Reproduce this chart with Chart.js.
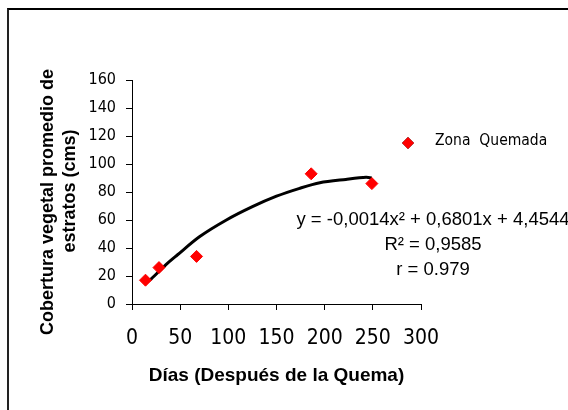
<!DOCTYPE html>
<html>
<head>
<meta charset="utf-8" />
<script src="https://cdn.jsdelivr.net/npm/chart.js@4.4.1/dist/chart.umd.min.js"></script>
<style>
  body { margin: 0; background: #fff; }
  .wrap { position: relative; width: 568px; height: 410px; overflow: hidden; }
  .frame { position: absolute; left: 7px; top: 8px; width: 700px; height: 500px; border-left: 2px solid #222; border-top: 2px solid #000; }
  canvas { position: absolute; left: 0; top: 0; }
</style>
</head>
<body>
<div class="wrap">
  <div class="frame"></div>
  <canvas id="myChart" width="568" height="410"></canvas>
</div>
<script>
// puntos medidos
const dias = [14, 28, 67, 186, 249];
const cobertura = [17, 26, 34, 93, 86];

// linea de tendencia
const tendDias = [14, 20, 35, 47, 70, 98, 125, 150, 174, 195, 222, 243, 249];
const tendCobertura = [15, 18, 28, 35, 48, 60, 69.5, 77, 82.6, 86.6, 89, 90.5, 90];

const xTicks = [0, 50, 100, 150, 200, 250, 300];
const yTicks = [0, 20, 40, 60, 80, 100, 120, 140, 160];

const serieLabel = "Zona  Quemada";
const yTitulo = ["Cobertura vegetal promedio de", "estratos (cms)"];
const ecuacion = [
  "y = -0,0014x\u00b2 + 0,6801x + 4,4544",
  "R\u00b2 = 0,9585",
  "r = 0.979",
];

const narrow = "'Liberation Sans Narrow', 'DejaVu Sans Condensed', sans-serif";
const arial = "'Liberation Sans', Arial, sans-serif";

const textoPlugin = {
  id: "textoPlugin",
  afterDraw: (chart) => {
    const ctx = chart.ctx;
    const area = chart.chartArea;
    ctx.save();
    // leyenda
    Chart.helpers.drawPoint(
      ctx,
      { pointStyle: "rectRot", radius: 6, rotation: 0, borderWidth: 0 },
      area.right - 13,
      area.top + 63
    );
    ctx.fillStyle = "red";
    ctx.fill();
    ctx.fillStyle = "#000";
    ctx.font = "15.5px " + narrow;
    ctx.textAlign = "left";
    ctx.textBaseline = "middle";
    ctx.fillText(serieLabel, area.right + 14, area.top + 61);

    // ecuacion
    ctx.font = "18.5px " + arial;
    ctx.textAlign = "center";
    ecuacion.forEach((line, i) => {
      ctx.fillText(line, area.right + 12, area.top + 140 + i * 25);
    });

    // titulo eje y
    ctx.font = "bold 18px " + arial;
    const centros = [area.top + 122, area.top + 111];
    yTitulo.forEach((line, i) => {
      ctx.save();
      ctx.translate(48 + i * 22, centros[i]);
      ctx.rotate(-Math.PI / 2);
      ctx.fillText(line, 0, 0);
      ctx.restore();
    });
    ctx.restore();
  },
};

const ctx = document.getElementById("myChart").getContext("2d");
const data = {
  datasets: [
    {
      label: serieLabel,
      data: dias.map((d, i) => ({ x: d, y: cobertura[i] })),
      backgroundColor: "#ff0000",
      borderColor: "#ff0000",
      pointStyle: "rectRot",
      pointRadius: 6,
      showLine: false,
    },
    {
      label: "tendencia",
      data: tendDias.map((d, i) => ({ x: d, y: tendCobertura[i] })),
      borderColor: "#000",
      borderWidth: 3,
      pointRadius: 0,
      showLine: true,
      tension: 0.3,
    },
  ],
};

const options = {
  responsive: false,
  animation: false,
  layout: { padding: { top: 80, right: 147, left: 0, bottom: 0 } },
  plugins: { legend: { display: false }, tooltip: { enabled: false } },
  scales: {
    x: {
      type: "linear",
      min: 0,
      max: 300,
      afterBuildTicks: (scale) => {
        scale.ticks = xTicks.map((v) => ({ value: v }));
      },
      afterFit: (scale) => {
        scale.height = 106;
      },
      ticks: {
        color: "#000",
        padding: 16,
        font: { family: narrow, size: 21 },
      },
      grid: { drawOnChartArea: false, tickLength: 6, color: "#000" },
      border: { color: "#000" },
      title: {
        display: true,
        text: "Días (Después de la Quema)",
        color: "#000",
        font: { family: arial, size: 19, weight: "bold" },
        padding: { top: 0, bottom: 23 },
      },
    },
    y: {
      type: "linear",
      min: 0,
      max: 160,
      afterBuildTicks: (scale) => {
        scale.ticks = yTicks.map((v) => ({ value: v }));
      },
      afterFit: (scale) => {
        scale.width = 132;
      },
      ticks: {
        color: "#000",
        padding: 10,
        font: { family: narrow, size: 16 },
      },
      grid: { drawOnChartArea: false, tickLength: 6, color: "#000" },
      border: { color: "#000" },
    },
  },
};

new Chart(ctx, {
  type: "scatter",
  data: data,
  options: options,
  plugins: [textoPlugin],
});
</script>
</body>
</html>
